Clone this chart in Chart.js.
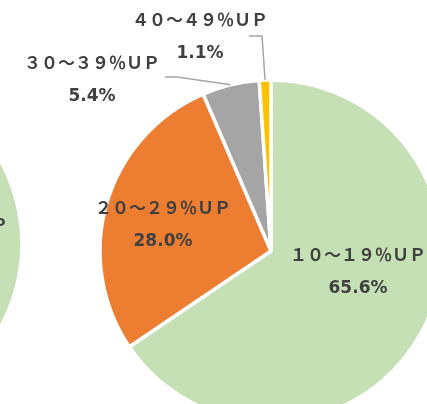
<!DOCTYPE html>
<html>
<head>
<meta charset="utf-8">
<script src="https://cdn.jsdelivr.net/npm/chart.js@4.4.0/dist/chart.umd.min.js"></script>
<style>
  html, body { margin: 0; padding: 0; background: #fff; overflow: hidden; }
  #wrap { position: relative; width: 427px; height: 404px; overflow: hidden; }
  #main { position: absolute; left: -29px; top: -49px; }
  #side { position: absolute; left: -449px; top: -56px; }
</style>
</head>
<body>
<div id="wrap">
  <canvas id="side" width="600" height="600"></canvas>
  <canvas id="main" width="600" height="600"></canvas>
</div>
<script>
// 上昇率の区分
const categories = ['１０～１９％ＵＰ', '２０～２９％ＵＰ', '３０～３９％ＵＰ', '４０～４９％ＵＰ'];
// 割合 (%)
const mainValues = [65.6, 28.0, 5.4, 1.1];
// 左側のグラフ (一部しか見えない)
const sideValues = [62.0, 30.5, 6.0, 1.5];
const sliceColors = ['#c5e0b4', '#ed7d31', '#a5a5a5', '#ffc000'];

// ラベル位置 (円の中心からのずれ)
const mainLabelPos = [[87, 21], [-108, -26], [-179, -171], [-71, -214]];
const sideLabelPos = [[89, -2], [-100, -30], [-175, -170], [-70, -214]];
// 引き出し線 [開始, 折れ点] ラベル中心からのずれ
const mainLeaders = [null, null, [[73, -3], [85, -3]], [[49, -1], [62, -1]]];

const sliceLabels = {
  id: 'sliceLabels',
  afterDatasetsDraw(chart, args, opts) {
    const ctx = chart.ctx;
    const arcs = chart.getDatasetMeta(0).data;
    const values = chart.data.datasets[0].data;
    ctx.save();
    arcs.forEach((arc, i) => {
      const p = arc.getProps(['x', 'y', 'startAngle', 'endAngle', 'outerRadius'], true);
      const pos = opts.positions[i];
      const lx = p.x + pos[0];
      const ly = p.y + pos[1];
      const leader = opts.leaders ? opts.leaders[i] : null;
      if (leader) {
        const mid = (p.startAngle + p.endAngle) / 2;
        ctx.strokeStyle = '#a6a6a6';
        ctx.lineWidth = 1.5;
        ctx.beginPath();
        ctx.moveTo(lx + leader[0][0], ly + leader[0][1]);
        ctx.lineTo(lx + leader[1][0], ly + leader[1][1]);
        ctx.lineTo(p.x + Math.cos(mid) * p.outerRadius, p.y + Math.sin(mid) * p.outerRadius);
        ctx.stroke();
      }
      ctx.fillStyle = '#404040';
      ctx.textAlign = 'center';
      ctx.textBaseline = 'middle';
      ctx.font = 'bold 17px "Noto Sans CJK JP"';
      ctx.fillText(chart.data.labels[i], lx, ly - 17);
      ctx.font = 'bold 17px "DejaVu Sans"';
      ctx.fillText(values[i].toFixed(1) + '%', lx, ly + 17);
    });
    ctx.restore();
  }
};

function makePie(id, values, positions, leaders) {
  return new Chart(document.getElementById(id), {
    type: 'pie',
    data: {
      labels: categories,
      datasets: [{
        data: values,
        backgroundColor: sliceColors,
        borderColor: '#ffffff',
        borderWidth: 3.5
      }]
    },
    options: {
      responsive: false,
      animation: false,
      radius: 171,
      plugins: {
        legend: { display: false },
        tooltip: { enabled: false },
        sliceLabels: { positions: positions, leaders: leaders }
      }
    },
    plugins: [sliceLabels]
  });
}

makePie('side', sideValues, sideLabelPos, null);
makePie('main', mainValues, mainLabelPos, mainLeaders);
</script>
</body>
</html>
